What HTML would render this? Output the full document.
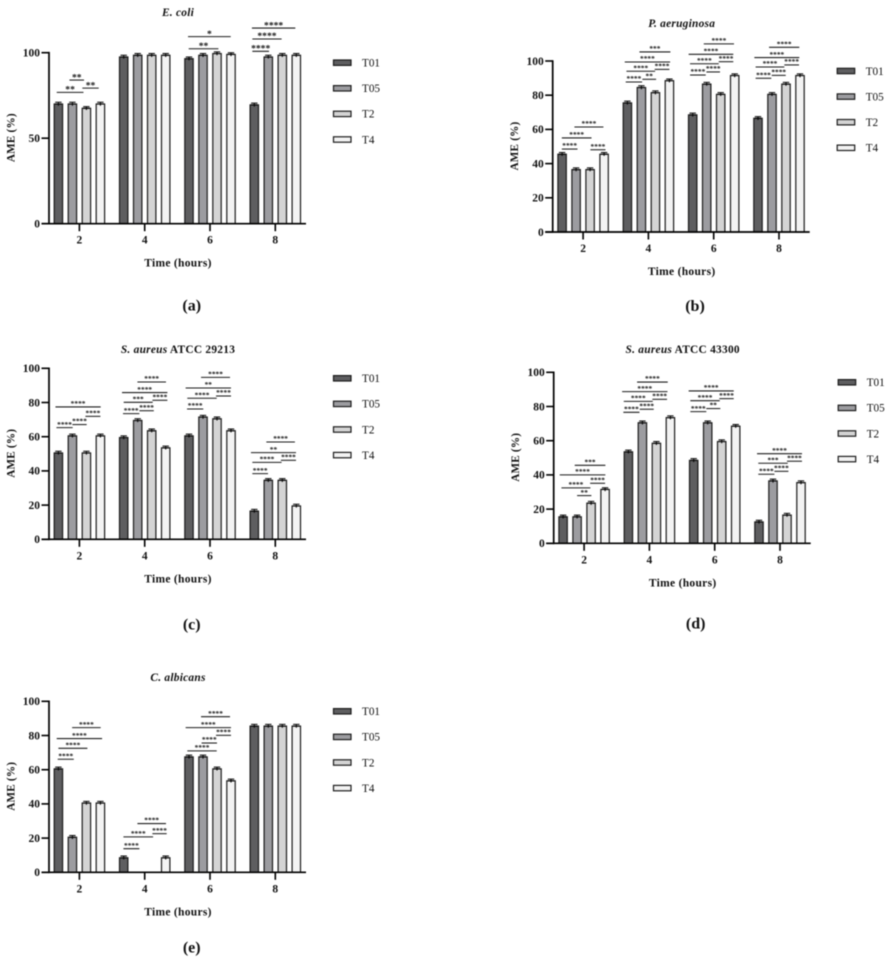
<!DOCTYPE html>
<html lang="en">
<head>
<meta charset="utf-8">
<title>AME over time by organism</title>
<style>
html,body{margin:0;padding:0;background:#fff;}
body{width:888px;height:960px;overflow:hidden;}
svg{display:block;filter:blur(0.4px);}
text{font-family:"Liberation Serif",serif;fill:#111;}
</style>
</head>
<body>
<svg id="figure" xmlns="http://www.w3.org/2000/svg" width="888" height="960" viewBox="0 0 888 960"></svg>
<script>
// Shared categories and labels
const categories = ['2', '4', '6', '8'];
const seriesNames = ['T01', 'T05', 'T2', 'T4'];
const seriesFills = ['#5e5e60', '#9c9ca0', '#d4d4d4', '#f3f3f3'];
const errorSize = 1;

// E. coli
const ecoliT01 = [70, 97.5, 96.5, 69.5];
const ecoliT05 = [70, 98.5, 98.5, 97.5];
const ecoliT2 = [67.5, 98.5, 99.5, 98.5];
const ecoliT4 = [70, 98.5, 99, 98.5];
const ecoliTicks = [0, 50, 100];
const ecoliBrackets = [
  [0,-0.12,1.79,76.8,'**'],[0,0.79,1.83,84,'**'],[0,1.71,2.88,79.3,'**'],
  [2,-0.07,2.98,109.4,'*'],[2,-0.02,2.1,102.3,'**'],
  [3,-0.17,2.93,114.4,'****'],[3,-0.14,1.95,108,'****'],[3,-0.14,1.05,100.8,'****']
];

// P. aeruginosa
const paeruT01 = [45.5, 75.5, 68.5, 66.5];
const paeruT05 = [36.5, 84.5, 86.5, 80.5];
const paeruT2 = [36.5, 81.5, 80.5, 86.5];
const paeruT4 = [45.5, 88.5, 91.5, 91.5];
const paeruTicks = [0, 20, 40, 60, 80, 100];
const paeruBrackets = [
  [0,0.88,2.95,61.4,'****'],[0,-0.02,2.1,55,'****'],[0,-0.02,1.1,48.5,'****'],[0,2.02,3.1,48.1,'****'],
  [1,0.86,3.07,105.3,'***'],[1,-0.19,3.05,99.4,'****'],[1,-0.07,1.98,94,'****'],[1,1.95,3,95.1,'****'],[1,-0.12,1.05,87.7,'****'],[1,1.07,2.05,89.3,'**'],
  [2,0.79,2.95,110,'****'],[2,-0.29,2.9,103.9,'****'],[2,-0.19,1.86,98.4,'****'],[2,1.86,2.9,99.6,'****'],[2,-0.19,0.93,91.8,'****'],[2,0.98,1.95,93.6,'****'],
  [3,0.79,2.95,108,'****'],[3,-0.26,2.95,102,'****'],[3,-0.17,1.88,96.5,'****'],[3,1.88,2.93,97.7,'****'],[3,-0.17,0.95,89.9,'****'],[3,0.98,1.98,91.6,'****']
];

// S. aureus ATCC 29213
const sa29213T01 = [50.5, 59.5, 60.5, 16.5];
const sa29213T05 = [60.5, 69.5, 71.5, 34.5];
const sa29213T2 = [50.5, 63.5, 70.5, 34.5];
const sa29213T4 = [60.5, 53.5, 63.5, 19.5];
const sa29213Ticks = [0, 20, 40, 60, 80, 100];
const sa29213Brackets = [
  [0,-0.21,3.02,77.4,'****'],[0,1.93,3,71.9,'****'],[0,-0.14,1.02,65.3,'****'],[0,1,2.02,67.1,'****'],
  [1,0.98,3.02,92,'****'],[1,-0.12,3.12,85.8,'****'],[1,0,2.07,80.1,'***'],[1,2.05,3.12,81.3,'****'],[1,-0.05,1.12,73.5,'****'],[1,1.12,2.15,75.2,'****'],
  [2,0.86,2.93,94.7,'****'],[2,-0.24,3,88.5,'**'],[2,-0.12,1.98,82.5,'****'],[2,1.93,3,83.8,'****'],[2,-0.14,1.02,76.2,'****'],
  [3,0.86,2.9,56.9,'****'],[3,-0.24,2.98,50.7,'**'],[3,-0.14,1.95,45,'****'],[3,1.9,2.98,46.2,'****'],[3,-0.14,0.98,38.4,'****']
];

// S. aureus ATCC 43300
const sa43300T01 = [15.5, 53.5, 48.5, 12.5];
const sa43300T05 = [15.5, 70.5, 70.5, 36.5];
const sa43300T2 = [23.5, 58.5, 59.5, 16.5];
const sa43300T4 = [31.5, 73.5, 68.5, 35.5];
const sa43300Ticks = [0, 20, 40, 60, 80, 100];
const sa43300Brackets = [
  [0,0.83,3.02,45.6,'***'],[0,-0.24,3.02,40,'****'],[0,-0.12,1.95,32.4,'****'],[0,1.93,3,35.1,'****'],[0,1,2.02,27.9,'**'],
  [1,0.62,2.81,94.3,'****'],[1,-0.45,2.79,88.7,'****'],[1,-0.33,1.74,83,'****'],[1,1.71,2.76,84.2,'****'],[1,-0.36,0.79,76.6,'****'],[1,0.81,1.81,78.4,'****'],
  [2,-0.36,2.86,89.1,'****'],[2,-0.24,1.86,83.4,'****'],[2,1.83,2.86,84.6,'****'],[2,-0.24,0.9,77,'****'],[2,0.9,1.9,78.8,'**'],
  [3,-0.14,3.07,52.4,'****'],[3,-0.05,2.05,46.8,'***'],[3,2,3.07,48,'****'],[3,-0.05,1.1,40.4,'****'],[3,1.1,2.1,42.1,'****']
];

// C. albicans
const calbT01 = [60.5, 8.5, 67.5, 85.5];
const calbT05 = [20.5, 0, 67.5, 85.5];
const calbT2 = [40.5, 0, 60.5, 85.5];
const calbT4 = [40.5, 8.5, 53.5, 85.5];
const calbTicks = [0, 20, 40, 60, 80, 100];
const calbBrackets = [
  [0,0.98,3.02,84.6,'****'],[0,-0.12,3.12,78.2,'****'],[0,0,2.07,72.5,'****'],[0,-0.05,1.1,66.1,'****'],
  [1,0.98,3.02,28.5,'****'],[1,-0.02,2.1,20.7,'****'],[1,2.05,3.07,22.6,'****'],[1,-0.02,1.12,13.8,'****'],
  [2,0.86,2.93,91,'****'],[2,-0.24,3,84.6,'****'],[2,1.93,3,80.1,'****'],[2,0.9,2,75.6,'****'],[2,-0.12,1.98,71,'****']
];

const panels = [
  {key:'ecoli', title:[['E. coli',true]], series:[ecoliT01,ecoliT05,ecoliT2,ecoliT4], ticks:ecoliTicks, brackets:ecoliBrackets, caption:'(a)', left:49, top:52.7, titleY:12.3, captionX:191.7, captionY:305.7, starSize:9.6},
  {key:'p-aeruginosa', title:[['P. aeruginosa',true]], series:[paeruT01,paeruT05,paeruT2,paeruT4], ticks:paeruTicks, brackets:paeruBrackets, caption:'(b)', left:552.7, top:61, titleY:23.7, captionX:695, captionY:306, starSize:7.4},
  {key:'s-aureus-29213', title:[['S. aureus',true],[' ATCC 29213',false]], series:[sa29213T01,sa29213T05,sa29213T2,sa29213T4], ticks:sa29213Ticks, brackets:sa29213Brackets, caption:'(c)', left:49, top:368.3, titleY:349.3, captionX:191.7, captionY:624.3, starSize:7.4},
  {key:'s-aureus-43300', title:[['S. aureus',true],[' ATCC 43300',false]], series:[sa43300T01,sa43300T05,sa43300T2,sa43300T4], ticks:sa43300Ticks, brackets:sa43300Brackets, caption:'(d)', left:553.7, top:372.3, titleY:349.3, captionX:695.7, captionY:623.3, starSize:7.4},
  {key:'c-albicans', title:[['C. albicans',true]], series:[calbT01,calbT05,calbT2,calbT4], ticks:calbTicks, brackets:calbBrackets, caption:'(e)', left:49, top:701.3, titleY:677.7, captionX:191.7, captionY:947.3, starSize:7.4}
];

const svg = document.getElementById('figure');
const NS = 'http://www.w3.org/2000/svg';
const plotH = 171;
const catStart = 30.4, catStep = 65.3, slot = 14, barW = 8.4;

function make(parent, tag, attrs, content) {
  const el = document.createElementNS(NS, tag);
  for (const k in attrs) el.setAttribute(k, attrs[k]);
  if (content !== undefined) el.textContent = content;
  parent.appendChild(el);
  return el;
}

panels.forEach(function (p) {
  const g = make(svg, 'g', {});
  
  

  const x0 = p.left, y0 = p.top + plotH;
  const yScale = function (v) { return y0 - v / 100 * plotH; };
  const catX = function (c) { return x0 + catStart + c * catStep; };
  const slotX = function (c, s) { return catX(c) + (s - 1.5) * slot; };

  // Bars and error bars
  p.series.forEach(function (vals, s) {
    vals.forEach(function (v, c) {
      if (v <= 0) return;
      const cx = slotX(c, s), yTop = yScale(v);
      const bar = make(g, 'rect', {x:cx - barW / 2, y:yTop, width:barW, height:y0 - yTop, fill:seriesFills[s], stroke:'#1c1c1c', 'stroke-width':1.2});
      
      
      const eHi = yScale(v + errorSize), eLo = yScale(v - errorSize);
      const err = make(g, 'path', {d:'M' + cx + ' ' + eLo + 'V' + eHi + 'M' + (cx - 3.2) + ' ' + eHi + 'H' + (cx + 3.2) + 'M' + (cx - 3.2) + ' ' + yTop + 'H' + (cx + 3.2), fill:'none', stroke:'#000', 'stroke-width':1});
      
      
    });
  });

  // Axes
  const yAxis = make(g, 'line', {x1:x0, x2:x0, y1:p.top - 0.8, y2:y0 + 0.8, stroke:'#000', 'stroke-width':1.7});
  
  
  const xAxis = make(g, 'line', {x1:x0 - 7.5, x2:x0 + 257, y1:y0, y2:y0, stroke:'#000', 'stroke-width':1.7});
  
  

  p.ticks.forEach(function (t) {
    const tm = make(g, 'line', {x1:x0 - 7.5, x2:x0, y1:yScale(t), y2:yScale(t), stroke:'#000', 'stroke-width':1.6});
    
    
    const tl = make(g, 'text', {x:x0 - 9, y:yScale(t) + 3.8, 'text-anchor':'end', 'font-size':11.5, 'font-weight':'bold'}, String(t));
    
    
  });

  categories.forEach(function (c, i) {
    const tm = make(g, 'line', {x1:catX(i), x2:catX(i), y1:y0, y2:y0 + 7.5, stroke:'#000', 'stroke-width':1.6});
    
    
    const tl = make(g, 'text', {x:catX(i), y:y0 + 20, 'text-anchor':'middle', 'font-size':11.5, 'font-weight':'bold'}, c);
    
    
  });

  // Axis titles
  const xt = make(g, 'text', {x:x0 + 129, y:y0 + 43, 'text-anchor':'middle', 'font-size':11.5, 'font-weight':'bold', 'letter-spacing':0.3}, 'Time (hours)');
  
  
  const yc = p.top + plotH / 2 - 0.5, yx = x0 - 34.5;
  const yt = make(g, 'text', {x:yx, y:yc, transform:'rotate(-90 ' + yx + ' ' + yc + ')', 'text-anchor':'middle', 'font-size':11.2, 'font-weight':'bold', 'letter-spacing':0.2}, 'AME (%)');
  
  

  // Chart title
  const title = make(g, 'text', {x:x0 + 129, y:p.titleY + 3.5, 'text-anchor':'middle', 'font-size':11.4, 'font-weight':'bold', 'letter-spacing':0.25});
  
  
  p.title.forEach(function (part) {
    make(title, 'tspan', part[1] ? {'font-style':'italic'} : {}, part[0]);
  });

  // Significance brackets
  p.brackets.forEach(function (b, i) {
    const xa = slotX(b[0], b[1]), xb = slotX(b[0], b[2]), ly = yScale(b[3]);
    const ln = make(g, 'line', {x1:xa, x2:xb, y1:ly, y2:ly, stroke:'#1a1a1a', 'stroke-width':1.05});
    
    
    const st = make(g, 'text', {x:(xa + xb) / 2, y:ly - 4.3 + 0.47 * p.starSize, 'text-anchor':'middle', 'font-size':p.starSize, 'font-weight':'bold'}, b[4]);
    
    
  });

  // Legend
  seriesNames.forEach(function (name, s) {
    const ly = p.top + 10 + s * 25.6;
    const sw = make(g, 'rect', {x:x0 + 284.5, y:ly - 2.7, width:17.5, height:5.4, fill:seriesFills[s], stroke:'#1c1c1c', 'stroke-width':1.2});
    
    
    const lt = make(g, 'text', {x:x0 + 313, y:ly + 3.8, 'font-size':11.2}, name);
    
    
  });

  // Panel caption
  const cap = make(g, 'text', {x:p.captionX, y:p.captionY + 5, 'text-anchor':'middle', 'font-size':16, 'font-weight':'bold'}, p.caption);
  
  
});
</script>
</body>
</html>
